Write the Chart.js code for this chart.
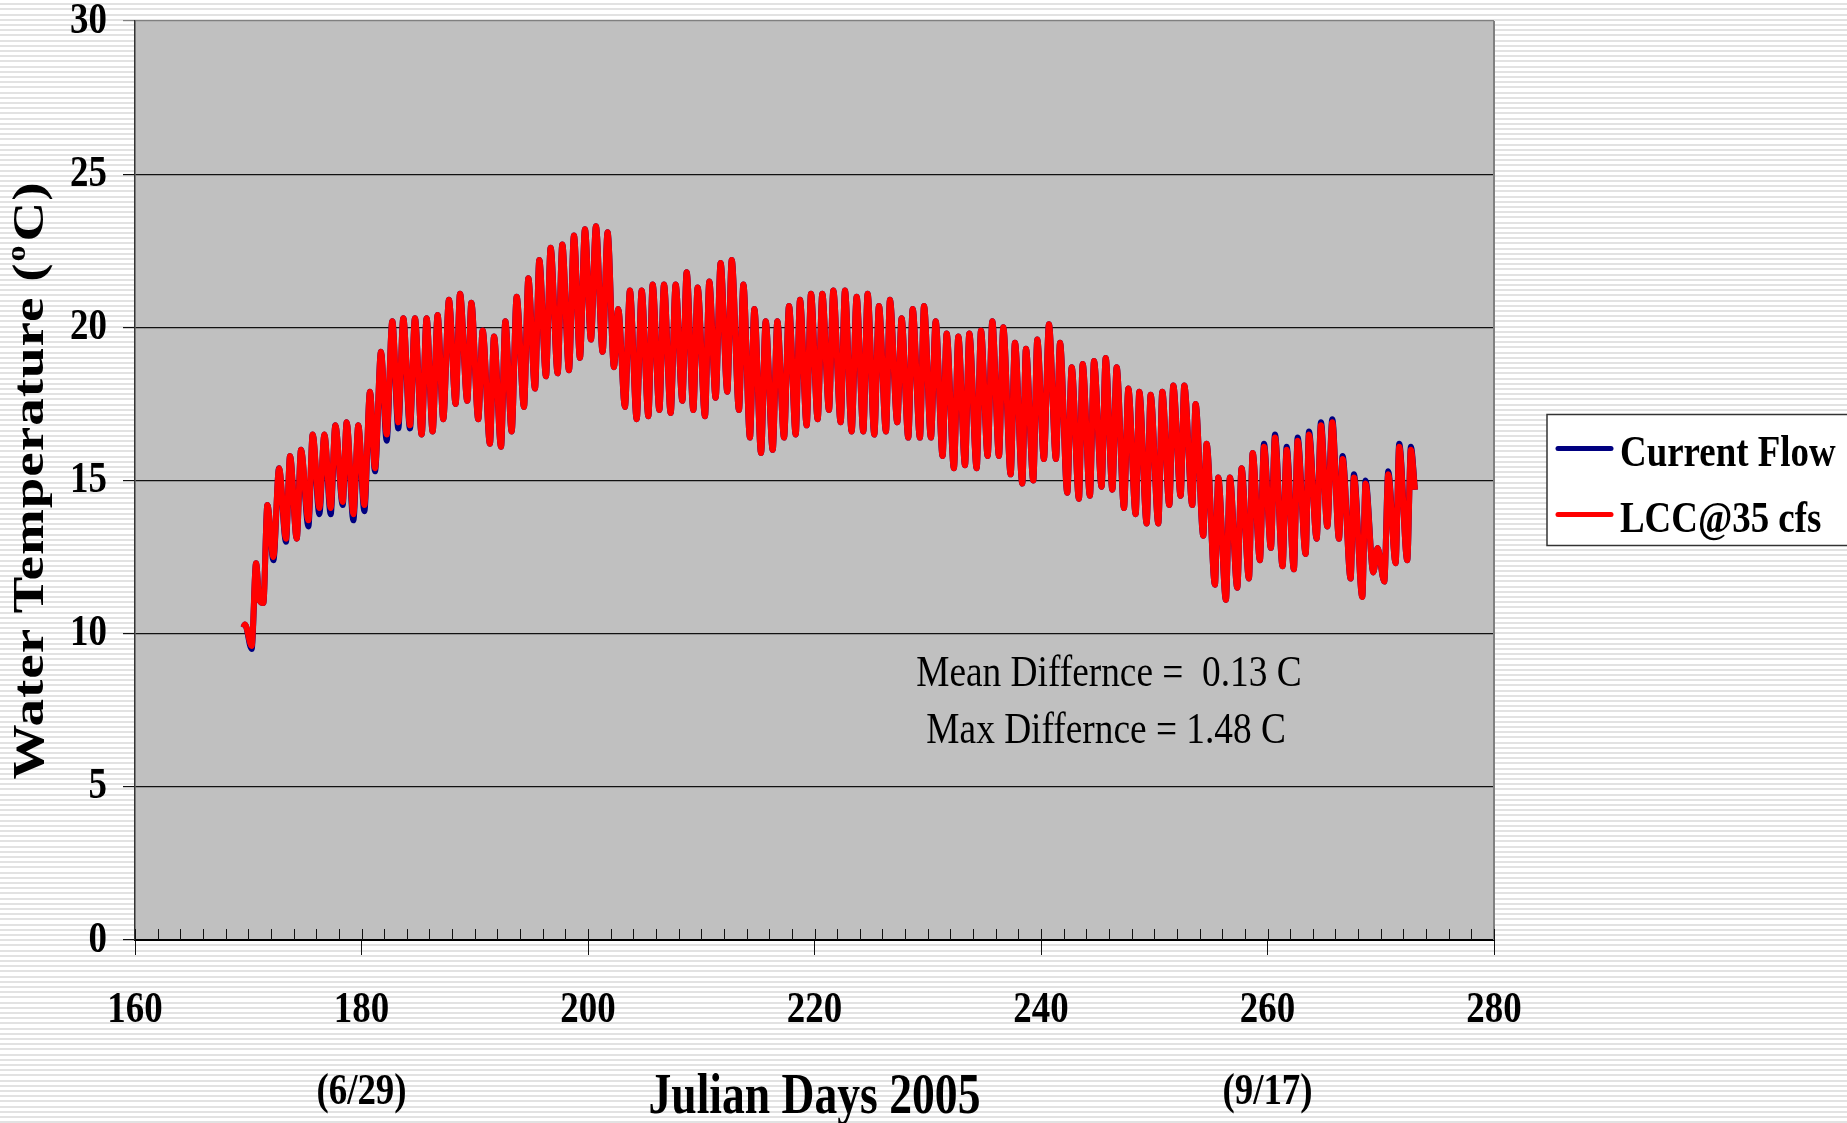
<!DOCTYPE html>
<html><head><meta charset="utf-8">
<script src="https://cdn.jsdelivr.net/npm/chart.js@4.4.1/dist/chart.umd.min.js"></script>
<style>
html,body{margin:0;padding:0;width:1847px;height:1123px;overflow:hidden;
background:repeating-linear-gradient(to bottom,#ffffff 0px,#ffffff 3.2px,#e2e2e2 3.2px,#e2e2e2 5.2px);}
canvas{display:block;}
</style></head><body>
<canvas id="c" width="1847" height="1123"></canvas>
<script>
// ---------------- DATA ----------------
const seriesNames = ['Current Flow', 'LCC@35 cfs'];
const seriesColors = ['#000080', '#ff0000'];

// Julian day of each daily extreme (trough / peak)
const dayTimes = [
  169.57,169.71,170.30,170.69,170.98,171.33,171.69,172.22,172.72,173.33,
  173.69,174.28,174.66,175.31,175.69,176.28,176.72,177.28,177.69,178.34,
  178.69,179.28,179.72,180.25,180.75,181.19,181.72,182.22,182.72,183.25,
  183.69,184.28,184.72,185.31,185.75,186.28,186.72,187.22,187.72,188.31,
  188.70,189.34,189.70,190.31,190.70,191.34,191.70,192.32,192.70,193.26,
  193.70,194.35,194.73,195.32,195.70,196.29,196.70,197.32,197.73,198.32,
  198.76,199.29,199.73,200.26,200.70,201.29,201.73,202.29,202.67,203.26,203.70,
  204.30,204.74,205.33,205.71,206.30,206.71,207.30,207.74,208.33,208.71,
  209.30,209.68,210.33,210.71,211.27,211.71,212.30,212.69,213.33,213.72,
  214.30,214.69,215.28,215.69,216.31,216.72,217.31,217.75,218.34,218.72,
  219.31,219.69,220.28,220.69,221.28,221.66,222.31,222.69,223.28,223.72,
  224.31,224.69,225.28,225.69,226.31,226.66,227.31,227.69,228.28,228.67,
  229.31,229.67,230.28,230.70,231.31,231.67,232.31,232.70,233.29,233.67,
  234.32,234.70,235.29,235.70,236.29,236.67,237.32,237.70,238.35,238.67,
  239.32,239.67,
  240.26,240.70,241.32,241.68,242.32,242.71,243.35,243.68,244.32,244.68,
  245.35,245.71,246.30,246.68,247.33,247.71,248.36,248.68,249.33,249.68,
  250.36,250.71,251.33,251.68,252.33,252.65,253.36,253.65,254.33,254.62,
  255.36,255.65,256.33,256.68,257.33,257.71,258.36,258.69,259.33,259.69,
  260.30,260.66,261.33,261.69,262.33,262.66,263.37,263.66,264.34,264.72,
  265.28,265.72,266.31,266.63,267.34,267.63,268.37,268.66,269.34,269.72,
  270.31,270.66,271.31,271.63,272.34,272.66,273.02
];

// LCC@35 cfs water temperature (deg C)
const lccTemps = [
  10.2,10.3,9.6,12.3,11.1,11.0,14.2,12.5,15.4,13.1,
  15.8,13.1,16.0,13.7,16.5,14.1,16.5,14.1,16.8,14.3,
  16.9,13.9,16.8,14.2,17.9,15.4,19.2,16.5,20.2,16.9,
  20.3,16.8,20.3,16.5,20.3,16.6,20.4,17.0,20.9,17.5,
  21.1,17.6,20.8,17.0,19.9,16.2,19.7,16.1,20.2,16.6,
  21.0,17.4,21.6,18.0,22.2,18.4,22.6,18.5,22.7,18.6,
  23.0,19.0,23.2,19.6,23.3,19.2,23.1,18.7,20.6,17.4,21.2,
  17.0,21.2,17.1,21.4,17.3,21.4,17.2,21.4,17.6,21.8,
  17.3,21.3,17.1,21.5,17.7,22.1,17.9,22.2,17.3,21.4,
  16.4,20.6,15.9,20.2,16.0,20.2,16.4,20.7,16.5,20.9,
  16.8,21.1,17.0,21.1,17.3,21.2,16.9,21.2,16.6,21.0,
  16.6,21.1,16.5,20.7,16.6,20.9,16.9,20.3,16.4,20.6,
  16.4,20.7,16.4,20.2,15.8,19.8,15.4,19.7,15.5,19.8,
  15.4,19.9,15.8,20.2,15.8,20.0,15.2,19.5,14.9,19.3,
  15.0,19.6,
  15.7,20.1,15.7,19.5,14.6,18.7,14.4,18.8,14.5,18.9,
  14.8,19.0,14.7,18.7,14.1,18.0,13.9,17.9,13.6,17.8,
  13.6,17.9,14.2,18.1,14.5,18.1,14.2,17.5,13.2,16.2,
  11.6,15.1,11.1,15.1,11.5,15.4,11.8,15.9,12.4,16.1,
  12.8,16.4,12.2,16.0,12.1,16.3,12.6,16.5,13.1,16.8,
  13.5,16.9,13.1,15.7,11.8,15.1,11.2,14.9,12.0,12.8,
  11.7,15.2,12.3,16.1,12.4,16.0,14.7
];

// Current Flow water temperature (deg C)
const currentTemps = [
  10.2,10.3,9.5,12.3,11.1,11.0,14.2,12.4,15.4,13.0,
  15.8,13.1,16.0,13.5,16.5,13.9,16.5,13.9,16.8,14.2,
  16.9,13.7,16.8,14.0,17.9,15.3,19.2,16.3,20.2,16.7,
  20.3,16.7,20.3,16.5,20.3,16.6,20.4,17.0,20.9,17.5,
  21.1,17.6,20.8,17.0,19.9,16.2,19.7,16.1,20.2,16.6,
  21.0,17.4,21.6,18.0,22.2,18.4,22.6,18.5,22.7,18.6,
  23.0,19.0,23.2,19.6,23.3,19.2,23.1,18.7,20.6,17.4,21.2,
  17.0,21.2,17.1,21.4,17.3,21.4,17.2,21.4,17.6,21.8,
  17.3,21.3,17.1,21.5,17.7,22.1,17.9,22.2,17.3,21.4,
  16.4,20.6,15.9,20.2,16.0,20.2,16.4,20.7,16.5,20.9,
  16.8,21.1,17.0,21.1,17.3,21.2,16.9,21.2,16.6,21.0,
  16.6,21.1,16.5,20.7,16.6,20.9,16.9,20.3,16.4,20.6,
  16.4,20.7,16.4,20.2,15.8,19.8,15.4,19.7,15.5,19.8,
  15.4,19.9,15.8,20.2,15.8,20.0,15.2,19.5,14.9,19.3,
  15.0,19.6,
  15.7,20.1,15.7,19.5,14.6,18.7,14.4,18.8,14.5,18.9,
  14.8,19.0,14.7,18.7,14.1,18.0,13.9,17.9,13.6,17.8,
  13.6,17.9,14.2,18.1,14.5,18.1,14.2,17.5,13.2,16.2,
  11.6,15.1,11.1,15.1,11.5,15.4,11.8,15.9,12.4,16.2,
  12.8,16.5,12.2,16.1,12.1,16.4,12.6,16.6,13.1,16.9,
  13.5,17.0,13.1,15.8,11.8,15.2,11.2,15.0,12.0,12.8,
  11.7,15.3,12.3,16.2,12.4,16.1,14.7
];

const dateTickDays = [180, 260];
const dateTickLabels = ['(6/29)', '(9/17)'];
const statLines = ['Mean Differnce =  0.13 C', 'Max Differnce = 1.48 C'];
const xTitle = 'Julian Days 2005';
const yTitleParts = ['Water Temperature (', 'o', 'C)'];

// ---------------- RENDERING ----------------
const SERIF = "'Liberation Serif', 'Times New Roman', serif";
const canvas = document.getElementById('c');
const ctx = canvas.getContext('2d');
const nativeFillText = ctx.fillText;
// the reference text is horizontally condensed; squeeze glyphs via maxWidth
ctx.fillText = function (text, x, y, maxWidth) {
  const k = this.__squeeze === undefined ? 0.82 : this.__squeeze;
  if (k >= 1) {
    if (maxWidth === undefined) nativeFillText.call(this, text, x, y);
    else nativeFillText.call(this, text, x, y, maxWidth);
    return;
  }
  const w = this.measureText(String(text)).width * k;
  const mw = (maxWidth === undefined || maxWidth === null) ? w : Math.min(maxWidth, w);
  if (!(mw > 0)) return;
  nativeFillText.call(this, text, x, y, mw);
};

const decor = {
  id: 'decor',
  beforeDraw(chart) {
    const a = chart.chartArea, c = chart.ctx;
    c.save();
    c.fillStyle = '#c0c0c0';
    c.fillRect(a.left, a.top, a.right - a.left, a.bottom - a.top);
    c.restore();
  },
  beforeDatasetsDraw(chart) {
    const a = chart.chartArea, c = chart.ctx, xs = chart.scales.x;
    c.save();
    // right frame
    c.strokeStyle = '#808080';
    c.lineWidth = 2;
    c.beginPath();
    c.moveTo(a.right, a.top);
    c.lineTo(a.right, a.bottom);
    c.stroke();
    // minor ticks every 2 days (inside the plot)
    c.strokeStyle = '#111';
    c.lineWidth = 1;
    for (let v = xs.min; v <= xs.max; v += 2) {
      const px = Math.round(xs.getPixelForValue(v)) + 0.5;
      c.beginPath();
      c.moveTo(px, a.bottom - 11);
      c.lineTo(px, a.bottom);
      c.stroke();
    }
    c.restore();
  },
  afterDraw(chart) {
    const a = chart.chartArea, c = chart.ctx, xs = chart.scales.x, ys = chart.scales.y;
    c.save();
    c.fillStyle = '#000';

    // statistics annotation
    c.__squeeze = 0.83;
    c.font = `45px ${SERIF}`;
    c.textAlign = 'center';
    c.textBaseline = 'middle';
    c.fillText(statLines[0], xs.getPixelForValue(246.0), ys.getPixelForValue(8.68));
    c.fillText(statLines[1], xs.getPixelForValue(245.75), ys.getPixelForValue(6.82));

    // x-axis title
    c.__squeeze = 0.8;
    c.font = `bold 57px ${SERIF}`;
    c.textAlign = 'center';
    c.textBaseline = 'alphabetic';
    c.fillText(xTitle, (a.left + a.right) / 2, 1113);

    // legend box
    const lx = a.right + 53, ly = 414.5;
    c.fillStyle = '#ffffff';
    c.fillRect(lx, ly, 330, 131);
    c.strokeStyle = '#333';
    c.lineWidth = 1.5;
    c.strokeRect(lx, ly, 330, 131);
    c.lineCap = 'round';
    c.lineWidth = 5;
    c.__squeeze = 0.82;
    c.font = `bold 45px ${SERIF}`;
    c.textAlign = 'left';
    c.textBaseline = 'alphabetic';
    chart.data.datasets.forEach((ds, i) => {
      const yy = ly + 34 + i * 66;
      c.strokeStyle = ds.borderColor;
      c.beginPath();
      c.moveTo(lx + 11, yy);
      c.lineTo(lx + 64, yy);
      c.stroke();
      c.fillStyle = '#000';
      c.fillText(ds.label, lx + 73, yy + 17);
    });

    // y-axis title (rotated, with superscript o)
    c.__squeeze = 1;
    c.translate(43, (a.top + a.bottom) / 2);
    c.rotate(-Math.PI / 2);
    c.scale(1, 0.82);
    c.fillStyle = '#000';
    c.textAlign = 'left';
    c.textBaseline = 'alphabetic';
    c.letterSpacing = '1px';
    const bigFont = `bold 55px ${SERIF}`, supFont = `bold 32px ${SERIF}`;
    c.font = bigFont; const w1 = c.measureText(yTitleParts[0]).width;
    c.font = supFont; const w2 = c.measureText(yTitleParts[1]).width;
    c.font = bigFont; const w3 = c.measureText(yTitleParts[2]).width;
    let sx = -(w1 + w2 + w3 + 4) / 2;
    c.font = bigFont; c.fillText(yTitleParts[0], sx, 0); sx += w1 + 1;
    c.font = supFont; c.fillText(yTitleParts[1], sx, -22); sx += w2 + 3;
    c.font = bigFont; c.fillText(yTitleParts[2], sx, 0);
    c.restore();
  }
};

function noEdgePadding(s) {
  s.paddingTop = 0; s.paddingBottom = 0; s.paddingLeft = 0; s.paddingRight = 0;
}

new Chart(ctx, {
  type: 'line',
  data: {
    datasets: [
      {
        label: seriesNames[0],
        data: dayTimes.map((t, i) => ({ x: t, y: currentTemps[i] })),
        borderColor: seriesColors[0], backgroundColor: seriesColors[0],
        borderWidth: 6, pointRadius: 0, cubicInterpolationMode: 'monotone', order: 1
      },
      {
        label: seriesNames[1],
        data: dayTimes.map((t, i) => ({ x: t, y: lccTemps[i] })),
        borderColor: seriesColors[1], backgroundColor: seriesColors[1],
        borderWidth: 6, pointRadius: 0, cubicInterpolationMode: 'monotone', order: 0
      }
    ]
  },
  options: {
    responsive: false,
    animation: false,
    events: [],
    layout: { padding: { top: 21, right: 353, bottom: 0, left: 0 } },
    plugins: { legend: { display: false }, tooltip: { enabled: false } },
    scales: {
      x: {
        type: 'linear', min: 160, max: 280,
        afterFit(s) { s.height = 183; noEdgePadding(s); },
        ticks: {
          stepSize: 20, autoSkip: false, maxRotation: 0, minRotation: 0, padding: 14,
          color: '#000',
          font: { family: SERIF, size: 45, weight: 'bold', lineHeight: 1.822 },
          callback(value) {
            const i = dateTickDays.indexOf(value);
            return i >= 0 ? [String(value), dateTickLabels[i]] : String(value);
          }
        },
        grid: { drawOnChartArea: false, drawTicks: true, tickLength: 15, color: '#111', lineWidth: 1 },
        border: { display: true, color: '#000', width: 2 }
      },
      y: {
        min: 0, max: 30,
        afterFit(s) { s.width = 135; noEdgePadding(s); },
        ticks: {
          stepSize: 5, padding: 16, color: '#000',
          font: { family: SERIF, size: 45, weight: 'bold', lineHeight: 0.9 }
        },
        grid: {
          color: (c) => (c.tick && c.tick.value === 30 ? '#808080' : '#111'),
          lineWidth: 1.2, tickLength: 12, drawTicks: true
        },
        border: { display: true, color: '#333', width: 1.5 }
      }
    }
  },
  plugins: [decor]
});
</script>
</body></html>
